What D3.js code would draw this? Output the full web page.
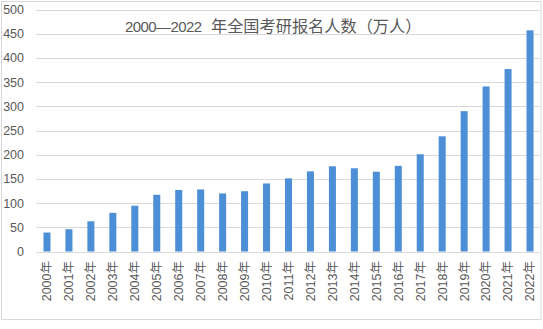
<!DOCTYPE html>
<html><head><meta charset="utf-8">
<script src="https://cdn.jsdelivr.net/npm/d3@7"></script>
<style>body{margin:0;background:#fff}svg{display:block}</style>
</head><body><svg id="c" width="543" height="329"></svg>
<script>
const years = ["2000年","2001年","2002年","2003年","2004年","2005年","2006年","2007年","2008年","2009年","2010年","2011年","2012年","2013年","2014年","2015年","2016年","2017年","2018年","2019年","2020年","2021年","2022年"];
const applicants = [39.2,46,62.4,79.9,94.5,117.2,127.1,128.2,120,124.6,140.6,151.1,165.6,176,172,164.9,177,201,238,290,341,377,457];
const yTicks = [0,50,100,150,200,250,300,350,400,450,500];
const titleNum = "2000—2022";
const titleText = "年全国考研报名人数（万人）";

const svg = d3.select("#c");
const font = "'Liberation Sans','Noto Sans CJK SC',sans-serif";
const txt = "#595959";

svg.append("rect").attr("x",1.5).attr("y",1.5).attr("width",539.5).attr("height",318)
  .attr("fill","#fff").attr("stroke","#d9d9d9").attr("stroke-width",1);

const x = d3.scaleBand().domain(years).range([36,541]).paddingInner(0.68).paddingOuter(0.34);
const y = d3.scaleLinear().domain([0,500]).range([251.5,9.5]);

const grid = svg.append("g");
grid.selectAll("line").data(yTicks).join("line")
  .attr("x1",36).attr("x2",540)
  .attr("y1",d=>Math.round(y(d))+0.5).attr("y2",d=>Math.round(y(d))+0.5)
  .attr("stroke","#d9d9d9").attr("stroke-width",1);

const yAxis = d3.axisLeft(y).tickValues(yTicks).tickSize(0).tickPadding(0);
const ya = svg.append("g").attr("transform","translate(24,0)").call(yAxis);
ya.select(".domain").remove();
ya.selectAll("text").attr("font-family",font).attr("font-size",12.5).attr("fill",txt);

svg.append("g").selectAll("rect").data(applicants).join("rect")
  .attr("x",(d,i)=>x(years[i])).attr("width",x.bandwidth())
  .attr("y",d=>y(d)).attr("height",d=>y(0)-y(d))
  .attr("fill","#4d8fd6");

const xAxis = d3.axisBottom(x).tickSize(0).tickPadding(0);
const xa = svg.append("g").attr("transform","translate(0,0)").call(xAxis);
xa.select(".domain").remove();
xa.selectAll(".tick").attr("transform",d=>`translate(${x(d)+x.bandwidth()/2},261)`);
xa.selectAll("text").attr("transform","rotate(-90)").attr("text-anchor","end")
  .attr("x",0).attr("y",0).attr("dy","0.35em")
  .attr("font-family",font).attr("font-size",12.5).attr("fill",txt);

const t = svg.append("text").attr("y",32).attr("font-family",font).attr("fill",txt);
t.append("tspan").attr("x",125).attr("font-size",15).attr("textLength",77).text(titleNum);
t.append("tspan").attr("x",211).attr("font-size",16.2).text(titleText);
</script></body></html>
